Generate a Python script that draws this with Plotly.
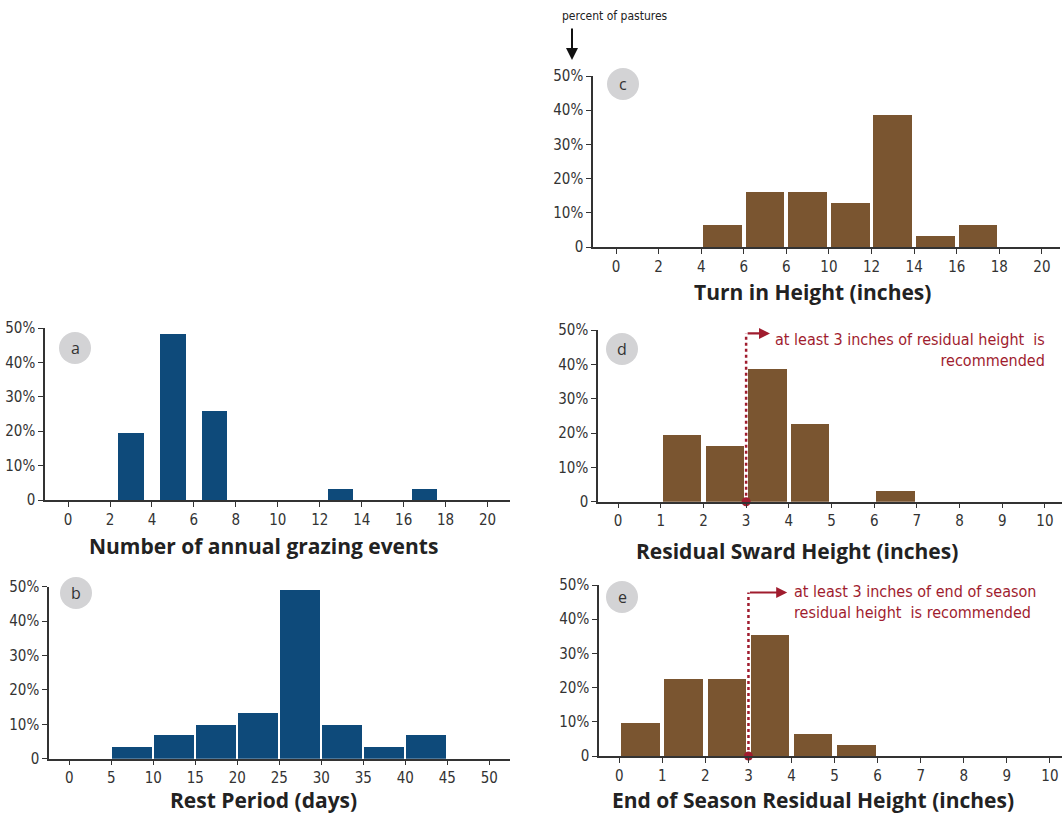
import plotly.graph_objects as go

# ---- data: percent of pastures per bin ----
# (a) number of annual grazing events
a_centers = [3, 5, 7, 13, 17]
a_pct = [19.4, 48.4, 25.8, 3.2, 3.2]

# (b) rest period (days), 5-day bins starting at these values
b_starts = [5, 10, 15, 20, 25, 30, 35, 40]
b_pct = [3.4, 6.9, 10.0, 13.4, 49.0, 10.0, 3.4, 6.9]

# (c) turn in height (inches), 2-inch bins
c_starts = [4, 6, 8, 10, 12, 14, 16]
c_pct = [6.5, 16.1, 16.1, 12.9, 38.7, 3.2, 6.5]

# (d) residual sward height (inches), 1-inch bins
d_starts = [1, 2, 3, 4, 6]
d_pct = [19.4, 16.1, 38.7, 22.6, 3.2]

# (e) end of season residual height (inches), 1-inch bins
e_starts = [0, 1, 2, 3, 4, 5]
e_pct = [9.7, 22.6, 22.6, 35.5, 6.5, 3.2]

recommended_min = 3

y_ticks = [0, 10, 20, 30, 40, 50]
y_labels = ["0", "10%", "20%", "30%", "40%", "50%"]
c_ticks = [0, 2, 4, 6, 8, 10, 12, 14, 16, 18, 20]
c_labels = ["0", "2", "4", "6", "6", "10", "12", "14", "16", "18", "20"]

BLUE = "#0E4A7A"
BROWN = "#7A5530"
RED = "#A01C2E"
INK = "#333333"
NARROW = "Liberation Sans Narrow, DejaVu Sans Condensed, Arial Narrow, sans-serif"
TICK_FONT = dict(family=NARROW, size=15, color=INK)
TITLE_FONT = dict(family="Open Sans, sans-serif", size=21, color="#222222")

W, H = 1062, 814


def px_x(v):
    return v / W


def px_y(v):
    return 1 - v / H


fig = go.Figure()


def add_bars(xs, ys, width, color, ax):
    fig.add_trace(go.Bar(
        x=xs, y=ys, width=width, marker=dict(color=color, line=dict(width=0)),
        xaxis="x" + ax, yaxis="y" + ax, showlegend=False, hoverinfo="x+y",
    ))


add_bars([s + 1 for s in c_starts], c_pct, 1.82, BROWN, "")
add_bars(a_centers, a_pct, 1.2, BLUE, "2")
add_bars([s + 2.5 for s in b_starts], b_pct, 4.76, BLUE, "3")
add_bars([s + 0.5 for s in d_starts], d_pct, 0.9, BROWN, "4")
add_bars([s + 0.5 for s in e_starts], e_pct, 0.9, BROWN, "5")


def x_axis(domain_px, rng, dtick, yname, tickvals=None, ticktext=None):
    d = dict(
        domain=[px_x(domain_px[0]), px_x(domain_px[1])], range=rng,
        anchor=yname, showline=True, linecolor=INK, linewidth=1.5,
        ticks="outside", ticklen=5, tickwidth=1.2, tickcolor=INK,
        showgrid=False, zeroline=False, tickfont=TICK_FONT, fixedrange=True,
        automargin=False,
    )
    if tickvals is not None:
        d.update(tickmode="array", tickvals=tickvals, ticktext=ticktext)
    else:
        d.update(tick0=0, dtick=dtick)
    return d


def y_axis(bottom_px, top_px, xname):
    return dict(
        domain=[px_y(bottom_px), px_y(top_px)], range=[0, 50],
        anchor=xname, showline=True, linecolor=INK, linewidth=1.5,
        ticks="outside", ticklen=5, tickwidth=1.2, tickcolor=INK,
        tickmode="array", tickvals=y_ticks, ticktext=y_labels,
        showgrid=False, zeroline=False, tickfont=TICK_FONT, fixedrange=True,
        automargin=False,
    )


fig.update_layout(
    width=W, height=H, margin=dict(l=0, r=0, t=0, b=0, pad=0, autoexpand=False),
    paper_bgcolor="white", plot_bgcolor="white", bargap=0,
    xaxis=x_axis((593, 1060), [-1.08, 20.85], 2, "y", c_ticks, c_labels),
    yaxis=y_axis(247, 76, "x"),
    xaxis2=x_axis((45, 510), [-1.1, 21.07], 2, "y2"),
    yaxis2=y_axis(500, 328, "x2"),
    xaxis3=x_axis((49, 510), [-2.42, 52.46], 5, "y3"),
    yaxis3=y_axis(758.7, 586.7, "x3"),
    xaxis4=x_axis((598, 1062), [-0.47, 10.4], 1, "y4"),
    yaxis4=y_axis(501.7, 330, "x4"),
    xaxis5=x_axis((599, 1062), [-0.47, 10.28], 1, "y5"),
    yaxis5=y_axis(756, 585, "x5"),
)

# axis titles
titles = [
    ("Turn in Height (inches)", 812, 292),
    ("Number of annual grazing events", 263, 546),
    ("Rest Period (days)", 263, 799.5),
    ("Residual Sward Height (inches)", 797, 551),
    ("End of Season Residual Height (inches)", 813, 799.5),
]
for text, cx, cy in titles:
    fig.add_annotation(text="<b>%s</b>" % text, x=px_x(cx), y=px_y(cy), xref="paper", yref="paper",
                       xanchor="center", yanchor="middle", showarrow=False, font=TITLE_FONT,
                       borderpad=0)

# panel letter badges
badges = [("c", 623, 84), ("a", 75, 348), ("b", 76, 593), ("d", 622, 349), ("e", 622, 597)]
for letter, cx, cy in badges:
    r = 16
    fig.add_shape(type="circle", xref="paper", yref="paper",
                  x0=px_x(cx - r), x1=px_x(cx + r), y0=px_y(cy + r), y1=px_y(cy - r),
                  fillcolor="#D3D3D5", line=dict(width=0), layer="above")
    fig.add_annotation(text=letter, x=px_x(cx), y=px_y(cy), xref="paper", yref="paper",
                       showarrow=False, xanchor="center", yanchor="middle",
                       font=dict(family="Open Sans, sans-serif", size=16, color="#333333"))

# y-axis caption with pointer
fig.add_annotation(text="percent of pastures", x=px_x(615), y=px_y(16), xref="paper", yref="paper",
                   showarrow=False, xanchor="center", yanchor="middle",
                   font=dict(family=NARROW, size=12, color="#222222"))
fig.add_annotation(text="", x=px_x(572), y=px_y(60), xref="paper", yref="paper",
                   ax=0, ay=-33, axref="pixel", ayref="pixel",
                   showarrow=True, arrowhead=2, arrowsize=1.2, arrowwidth=2, arrowcolor="#111111")

# recommended residual height markers (panels d and e)
NOTE_FONT = dict(family=NARROW, size=16, color=RED)
for ax, top, arrow_end, text, tx, ty, align in [
    ("4", 49, 3.56, "at least 3 inches of residual height  is<br>recommended", 3.64, 44.2, "right"),
    ("5", 47.8, 3.9, "at least 3 inches of end of season<br>residual height  is recommended", 4.0, 44.9, "left"),
]:
    fig.add_shape(type="line", xref="x" + ax, yref="y" + ax,
                  x0=recommended_min, x1=recommended_min, y0=0, y1=top,
                  line=dict(color=RED, width=2.5, dash="dot"), layer="above")
    fig.add_annotation(text="", x=arrow_end, y=top, xref="x" + ax, yref="y" + ax,
                       ax=recommended_min, ay=top, axref="x" + ax, ayref="y" + ax,
                       showarrow=True, arrowhead=2, arrowsize=1, arrowwidth=2.2, arrowcolor=RED)
    fig.add_annotation(text=text, x=tx, y=ty, xref="x" + ax, yref="y" + ax,
                       xanchor="left", yanchor="middle", align=align, showarrow=False, font=NOTE_FONT)
    fig.add_trace(go.Scatter(x=[recommended_min], y=[0], mode="markers",
                             marker=dict(color=RED, size=9), cliponaxis=False,
                             xaxis="x" + ax, yaxis="y" + ax, showlegend=False, hoverinfo="skip"))

fig.write_html("out.html")
